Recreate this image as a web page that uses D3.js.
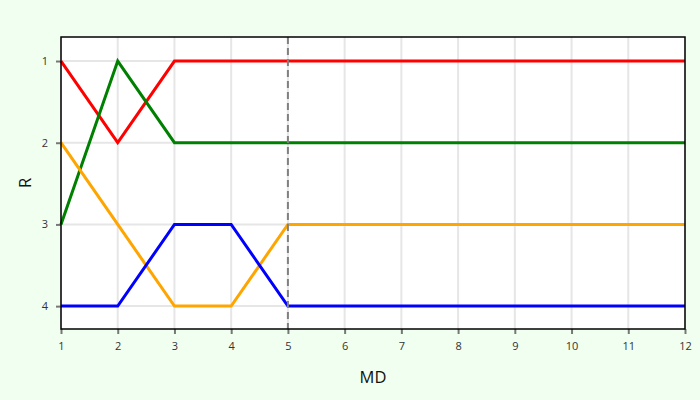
<!DOCTYPE html>
<html><head><meta charset="utf-8">
<script src="https://cdn.jsdelivr.net/npm/d3@7"></script>
<style>
html,body{margin:0;padding:0;background:#f0fff0;}
text{font-family:"Open Sans",sans-serif;}
</style></head>
<body>
<svg id="c" width="700" height="400"></svg>
<script>
const xValues = [1,2,3,4,5,6,7,8,9,10,11,12];
const seriesNames = ["red","green","orange","blue"];
const redValues    = [1,2,1,1,1,1,1,1,1,1,1,1];
const greenValues  = [3,1,2,2,2,2,2,2,2,2,2,2];
const orangeValues = [2,3,4,4,3,3,3,3,3,3,3,3];
const blueValues   = [4,4,3,3,4,4,4,4,4,4,4,4];
const yTicks = [1,2,3,4];
const markerX = 5;

const series = [
  {color:"red", values: redValues},
  {color:"green", values: greenValues},
  {color:"orange", values: orangeValues},
  {color:"blue", values: blueValues}
];

const svg = d3.select("#c");
const m = {l:61, r:15, t:37, b:71};
const W = 700, H = 400;
const x = d3.scaleLinear().domain([1,12]).range([m.l, W-m.r]);
const y = d3.scaleLinear().domain([0.706,4.28]).range([m.t, H-m.b]);

svg.append("rect").attr("x",m.l).attr("y",m.t).attr("width",W-m.l-m.r).attr("height",H-m.t-m.b).attr("fill","#fff");

// grid
svg.append("g").selectAll("line").data(xValues).join("line")
  .attr("x1",d=>x(d)).attr("x2",d=>x(d)).attr("y1",m.t).attr("y2",H-m.b)
  .attr("stroke","#e6e6e6").attr("stroke-width",2);
svg.append("g").selectAll("line").data(yTicks).join("line")
  .attr("x1",m.l).attr("x2",W-m.r).attr("y1",d=>y(d)).attr("y2",d=>y(d))
  .attr("stroke","#e6e6e6").attr("stroke-width",2);

// axes
const xa = svg.append("g").attr("transform",`translate(0,${H-m.b})`)
  .call(d3.axisBottom(x).tickValues(xValues).tickFormat(d3.format("d")).tickSize(5).tickPadding(8));
const ya = svg.append("g").attr("transform",`translate(${m.l},0)`)
  .call(d3.axisLeft(y).tickValues(yTicks).tickFormat(d3.format("d")).tickSize(5).tickPadding(8));
[xa,ya].forEach(a=>{
  a.select(".domain").remove();
  a.selectAll(".tick line").attr("stroke","#777").attr("stroke-width",2);
  a.selectAll(".tick text").attr("fill","#333").style("font-size","11px").style("font-family","Open Sans, sans-serif");
});

// lines
const line = d3.line().x((d,i)=>x(xValues[i])).y(d=>y(d));
svg.append("g").selectAll("path").data(series).join("path")
  .attr("d",d=>line(d.values)).attr("fill","none")
  .attr("stroke",d=>d.color).attr("stroke-width",3).attr("stroke-linejoin","miter");

// dashed marker
svg.append("line").attr("x1",x(markerX)).attr("x2",x(markerX)).attr("y1",m.t).attr("y2",H-m.b)
  .attr("stroke","#808080").attr("stroke-width",2).attr("stroke-dasharray","7,4");

// frame
svg.append("rect").attr("x",m.l).attr("y",m.t).attr("width",W-m.l-m.r).attr("height",H-m.t-m.b)
  .attr("fill","none").attr("stroke","#000").attr("stroke-width",1.5);

// labels
svg.append("text").attr("x",(m.l+W-m.r)/2).attr("y",383).attr("text-anchor","middle")
  .style("font-size","16.5px").attr("fill","#111").text("MD");
svg.append("text").attr("transform",`translate(31,${(m.t+H-m.b)/2}) rotate(-90)`).attr("text-anchor","middle")
  .style("font-size","16.5px").attr("fill","#111").text("R");
</script>
</body></html>
